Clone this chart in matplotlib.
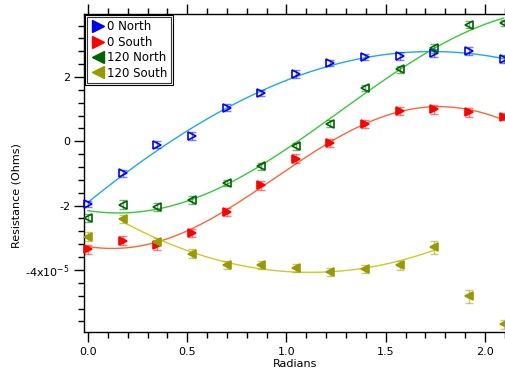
import numpy as np
import matplotlib
matplotlib.use("Agg")
import matplotlib.pyplot as plt
from matplotlib.lines import Line2D
from matplotlib.patches import Rectangle
from matplotlib.ticker import MultipleLocator, FuncFormatter

# angle steps (degrees) -> radians
angles_deg = [0, 10, 20, 30, 40, 50, 60, 70, 80, 90, 100, 110, 120]
radians = np.deg2rad(angles_deg)

# resistance values, in units of 1e-5 Ohm
north_0 = [-1.95, -1.0, -0.1, 0.17, 1.05, 1.5, 2.1, 2.44, 2.62, 2.65, 2.75, 2.8, 2.56]
south_0 = [-3.35, -3.09, -3.23, -2.84, -2.2, -1.37, -0.54, -0.06, 0.55, 0.94, 1.0, 0.9, 0.77]
north_120 = [-2.38, -1.97, -2.05, -1.82, -1.3, -0.78, -0.16, 0.55, 1.65, 2.24, 2.9, 3.63, 3.68]
south_120 = [-2.97, -2.41, -3.12, -3.5, -3.85, -3.85, -3.95, -4.06, -3.97, -3.85, -3.3, -4.82, -5.69]

err_n0 = [0.10, 0.12, 0.12, 0.12, 0.10, 0.10, 0.12, 0.10, 0.10, 0.12, 0.12, 0.12, 0.12]
err_s0 = [0.14, 0.14, 0.14, 0.12, 0.12, 0.14, 0.14, 0.12, 0.12, 0.12, 0.14, 0.14, 0.12]
err_n120 = [0.12, 0.14, 0.12, 0.12, 0.10, 0.12, 0.12, 0.10, 0.10, 0.10, 0.14, 0.12, 0.10]
err_s120 = [0.14, 0.12, 0.12, 0.14, 0.12, 0.12, 0.12, 0.12, 0.12, 0.14, 0.20, 0.20, 0.14]

labels = ["0 North", "0 South", "120 North", "120 South"]


def sine_fit(x, y, xs):
    """least squares y0 + A cos(fx) + B sin(fx), scanning f"""
    best = None
    for f in np.linspace(0.3, 3.0, 541):
        A = np.column_stack([np.ones_like(x), np.cos(f * x), np.sin(f * x)])
        coef = np.linalg.lstsq(A, y, rcond=None)[0]
        r = np.sum((A @ coef - y) ** 2)
        if best is None or r < best[0]:
            best = (r, f, coef)
    _, f, c = best
    return c[0] + c[1] * np.cos(f * xs) + c[2] * np.sin(f * xs)


plt.rcParams['font.family'] = ['DejaVu Sans']
fig = plt.figure(figsize=(5.06, 3.69), dpi=100)
ax = fig.add_axes([84 / 506, 37 / 369, 1 - 84 / 506, 318 / 369])

series = [
    (north_0, err_n0, '#0000ff', '#1aa8f0', '>', True, slice(0, 13)),
    (south_0, err_s0, '#ff0000', '#ff6633', '>', False, slice(0, 13)),
    (north_120, err_n120, '#006400', '#33cc33', '<', True, slice(0, 13)),
    (south_120, err_s120, '#999900', '#cccc22', '<', False, slice(1, 11)),
]

for vals, err, mc, lc, mk, hollow, fit_range in series:
    y = np.array(vals)
    xf = radians[fit_range]
    xs = np.linspace(xf[0], xf[-1], 200)
    ax.plot(xs, sine_fit(xf, y[fit_range], xs), color=lc, lw=1, zorder=2)
    ax.errorbar(radians, y, yerr=err, fmt='none', ecolor=mc, alpha=0.5,
                elinewidth=1, capsize=3, capthick=1, zorder=3, clip_on=False)
    ax.plot(radians, y, ls='none', marker=mk, ms=6, color=mc,
            mfc='none' if hollow else mc, mew=1.2, zorder=4, clip_on=False)

ax.set_xlim(-0.02, 2.106)
ax.set_ylim(-5.93, 3.96)

ax.xaxis.set_major_locator(MultipleLocator(0.5))
ax.xaxis.set_minor_locator(MultipleLocator(0.1))
ax.yaxis.set_major_locator(MultipleLocator(2))
ax.yaxis.set_minor_locator(MultipleLocator(0.4))
ax.xaxis.set_major_formatter(FuncFormatter(lambda v, p: f"{v:.1f}"))


def yfmt(v, p):
    if abs(v + 4) < 1e-6:
        return r"-4x10$^{-5}$"
    return f"{v:.0f}".replace("-0", "0")


ax.yaxis.set_major_formatter(FuncFormatter(yfmt))

ax.spines['right'].set_visible(False)
for s in ['left', 'top', 'bottom']:
    ax.spines[s].set_linewidth(1)
ax.tick_params(axis='both', which='both', direction='out', labelsize=8)
ax.tick_params(axis='x', which='both', top=True, bottom=True, pad=4)
ax.tick_params(axis='y', pad=3)
ax.tick_params(which='major', length=7, width=1)
ax.tick_params(which='minor', length=4, width=1)

# axis titles placed where the reference has them
fig.text(295 / 506, 2 / 369, "Radians", fontsize=8, ha='center', va='baseline')
fig.text(17 / 506, 173 / 369, "Resistance (Ohms)", fontsize=8, rotation=90,
         ha='center', va='center')

handles = [Line2D([], [], ls='none', marker=s[4], color=s[2], ms=9) for s in series]
leg = ax.legend(handles, labels, loc='upper left', fontsize=8.5, frameon=True,
                fancybox=False, handletextpad=0.2, borderpad=0.3, labelspacing=0.2,
                handlelength=1.2, borderaxespad=0.25)
leg.get_frame().set_edgecolor('black')
leg.get_frame().set_linewidth(0.8)

# Igor-style double border around legend
fig.canvas.draw()
bb = leg.get_window_extent()
outer = Rectangle((bb.x0 - 2, bb.y0 - 2), bb.width + 4, bb.height + 4,
                  transform=None, fill=False, ec='black', lw=0.8, zorder=10)
fig.add_artist(outer)

fig.savefig("out.png", dpi=100)
